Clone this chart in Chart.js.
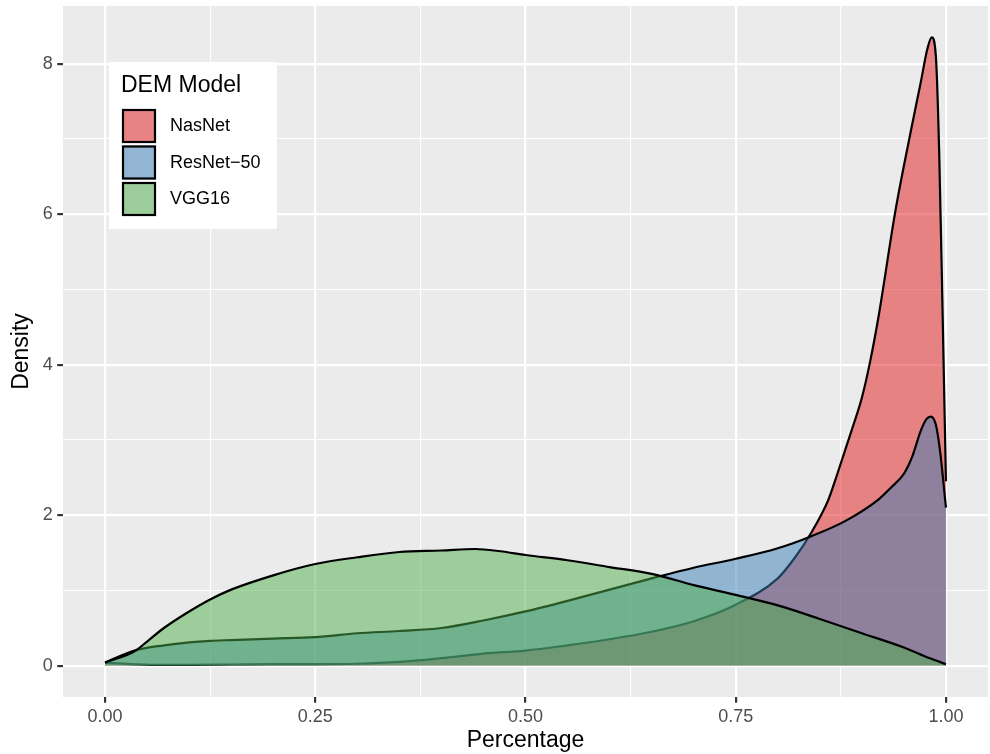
<!DOCTYPE html>
<html>
<head>
<meta charset="utf-8">
<script src="https://cdn.jsdelivr.net/npm/chart.js@4/dist/chart.umd.min.js"></script>
<style>
  body { margin: 0; background: #fff; }
  canvas { display: block; }
</style>
</head>
<body>
<canvas id="density_chart" width="990" height="754"></canvas>
<script>
// series names (legend order)
const seriesNames = ['NasNet', 'ResNet\u221250', 'VGG16'];

// density curves
const nasnetX = [0, 0.03, 0.06, 0.1, 0.15, 0.2, 0.25, 0.3, 0.35, 0.4, 0.45, 0.5, 0.55, 0.6, 0.65, 0.7, 0.75, 0.8, 0.82, 0.84, 0.86, 0.87, 0.88, 0.89, 0.9, 0.91, 0.92, 0.94, 0.96, 0.97, 0.978, 0.983, 0.988, 0.992, 0.996, 1.0];
const nasnetY = [0.04, 0.02, 0.01, 0.01, 0.015, 0.02, 0.02, 0.025, 0.05, 0.1, 0.16, 0.2, 0.27, 0.35, 0.45, 0.59, 0.81, 1.16, 1.43, 1.77, 2.2, 2.52, 2.86, 3.2, 3.56, 4.05, 4.65, 6.05, 7.2, 7.75, 8.2, 8.35, 8.1, 6.8, 4.7, 2.45];

const resnetX = [0, 0.035, 0.07, 0.1, 0.125, 0.15, 0.2, 0.25, 0.3, 0.35, 0.4, 0.45, 0.5, 0.55, 0.6, 0.65, 0.7, 0.75, 0.8, 0.84, 0.88, 0.92, 0.935, 0.95, 0.96, 0.97, 0.977, 0.982, 0.988, 0.993, 1.0];
const resnetY = [0.04, 0.2, 0.27, 0.31, 0.33, 0.34, 0.36, 0.38, 0.43, 0.46, 0.5, 0.6, 0.72, 0.86, 1.01, 1.16, 1.3, 1.42, 1.56, 1.72, 1.92, 2.21, 2.37, 2.55, 2.78, 3.12, 3.28, 3.31, 3.2, 2.85, 2.1];

const vggX = [0, 0.035, 0.05, 0.07, 0.1, 0.125, 0.15, 0.2, 0.25, 0.3, 0.35, 0.4, 0.44, 0.47, 0.5, 0.55, 0.6, 0.65, 0.7, 0.75, 0.8, 0.85, 0.9, 0.95, 0.98, 1.0];
const vggY = [0.04, 0.19, 0.32, 0.5, 0.72, 0.88, 1.01, 1.2, 1.35, 1.44, 1.51, 1.53, 1.55, 1.52, 1.47, 1.4, 1.31, 1.22, 1.07, 0.94, 0.8, 0.62, 0.43, 0.24, 0.1, 0.02];

// axis ticks
const xTicks = [0, 0.25, 0.5, 0.75, 1];
const xTickLabels = ['0.00', '0.25', '0.50', '0.75', '1.00'];
const xMinor = [0.125, 0.375, 0.625, 0.875];
const yTicks = [0, 2, 4, 6, 8];
const yTickLabels = ['0', '2', '4', '6', '8'];
const yMinor = [1, 3, 5, 7];

const FONT = "'Liberation Sans', Arial, sans-serif";
const fills = ['rgba(228,26,28,0.5)', 'rgba(55,126,184,0.5)', 'rgba(77,175,74,0.5)'];
const keyFills = ['rgb(232,130,131)', 'rgb(145,181,210)', 'rgb(156,205,155)'];

function pts(xs, ys) {
	let out = [];
	for (let i = 0; i < xs.length; i++) {
		out.push({ x: xs[i], y: ys[i] });
	}
	return out;
}

function setTicks(major, minor) {
	return function (scale) {
		scale.ticks = major.concat(minor).sort((a, b) => a - b).map(v => ({ value: v }));
	};
}

function gridOpts(major) {
	return {
		color: '#FFFFFF',
		lineWidth: ctx => major.includes(ctx.tick.value) ? 2.2 : 1.1,
		drawTicks: true,
		tickLength: 5.7,
		tickWidth: 2.2,
		tickColor: ctx => major.includes(ctx.tick.value) ? '#333333' : 'rgba(0,0,0,0)'
	};
}

// no extra room for overhanging tick labels
function noPad(s) {
	s.paddingTop = 0;
	s.paddingBottom = 0;
	s.paddingLeft = 0;
	s.paddingRight = 0;
}

// grey panel behind the grid
const panelBg = {
	id: 'panelBg',
	beforeDraw(chart) {
		const c = chart.ctx, a = chart.chartArea;
		c.save();
		c.fillStyle = '#FFFFFF';
		c.fillRect(0, 0, chart.width, chart.height);
		c.fillStyle = '#EBEBEB';
		c.fillRect(a.left, a.top, a.right - a.left, a.bottom - a.top);
		c.restore();
	}
};

// legend inside the panel, like ggplot's legend.position
const insideLegend = {
	id: 'insideLegend',
	afterDraw(chart) {
		const c = chart.ctx;
		c.save();
		c.fillStyle = '#FFFFFF';
		c.fillRect(109, 62, 168, 167);
		c.fillStyle = '#000000';
		c.textBaseline = 'middle';
		c.textAlign = 'left';
		c.font = '23px ' + FONT;
		c.fillText('DEM Model', 121, 86);
		c.font = '18px ' + FONT;
		for (let i = 0; i < seriesNames.length; i++) {
			const top = 109 + i * 36.5;
			c.fillStyle = keyFills[i];
			c.fillRect(122, top, 34, 34);
			c.strokeStyle = '#000000';
			c.lineWidth = 2.2;
			c.strokeRect(123, top + 1, 32, 32);
			c.fillStyle = '#000000';
			c.fillText(seriesNames[i], 170, top + 17.5);
		}
		c.restore();
	}
};

const ctx = document.getElementById('density_chart').getContext('2d');
const density_chart = new Chart(ctx, {
	type: 'line',
	data: {
		datasets: [{
			label: seriesNames[0],
			data: pts(nasnetX, nasnetY),
			backgroundColor: fills[0],
			order: 3
		}, {
			label: seriesNames[1],
			data: pts(resnetX, resnetY),
			backgroundColor: fills[1],
			order: 2
		}, {
			label: seriesNames[2],
			data: pts(vggX, vggY),
			backgroundColor: fills[2],
			order: 1
		}]
	},
	options: {
		responsive: false,
		animation: false,
		devicePixelRatio: 1,
		layout: { padding: { top: 6, right: 2, left: 0, bottom: 0 } },
		elements: {
			line: {
				borderColor: '#000000',
				borderWidth: 2.2,
				fill: 'origin',
				cubicInterpolationMode: 'monotone',
				borderJoinStyle: 'round'
			},
			point: { radius: 0 }
		},
		plugins: {
			legend: { display: false },
			tooltip: { enabled: false }
		},
		scales: {
			x: {
				type: 'linear',
				min: -0.05,
				max: 1.05,
				afterBuildTicks: setTicks(xTicks, xMinor),
				afterFit: s => { s.height = 57; noPad(s); },
				grid: gridOpts(xTicks),
				border: { display: false },
				ticks: {
					autoSkip: false,
					maxRotation: 0,
					padding: 4,
					color: '#4D4D4D',
					font: { family: FONT, size: 18 },
					callback: v => xTicks.includes(v) ? xTickLabels[xTicks.indexOf(v)] : ''
				},
				title: {
					display: true,
					text: 'Percentage',
					color: '#000000',
					font: { family: FONT, size: 23 },
					padding: { top: 0, bottom: 0 }
				}
			},
			y: {
				type: 'linear',
				min: -0.417,
				max: 8.766,
				afterBuildTicks: setTicks(yTicks, yMinor),
				afterFit: s => { s.width = 63; noPad(s); },
				grid: gridOpts(yTicks),
				border: { display: false },
				ticks: {
					autoSkip: false,
					padding: 4.6,
					color: '#4D4D4D',
					font: { family: FONT, size: 18 },
					callback: v => yTicks.includes(v) ? yTickLabels[yTicks.indexOf(v)] : ''
				},
				title: {
					display: true,
					text: 'Density',
					color: '#000000',
					font: { family: FONT, size: 23 },
					padding: { top: 8, bottom: 0 }
				}
			}
		}
	},
	plugins: [panelBg, insideLegend]
});
</script>
</body>
</html>
